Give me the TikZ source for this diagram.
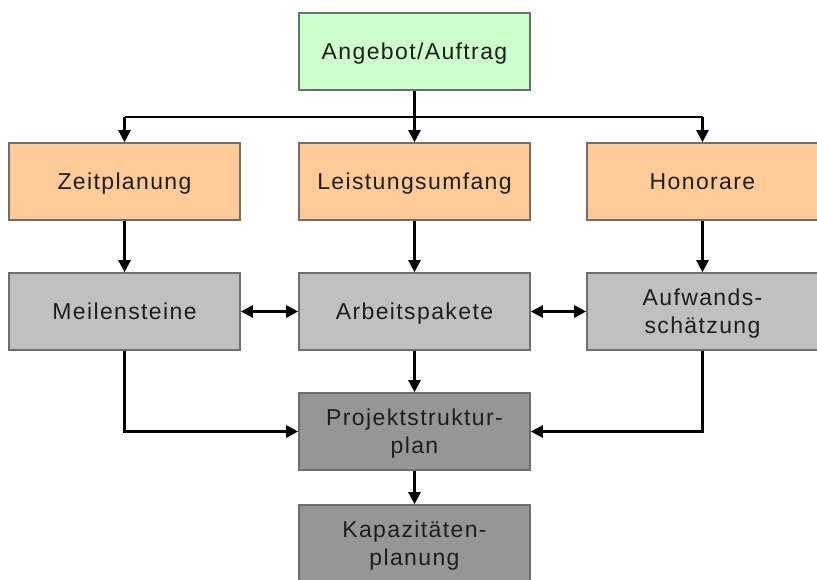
\documentclass[tikz,border=0pt]{standalone}
\usepackage{fontspec}
\setmainfont{Liberation Sans}[LetterSpace=6]
\usetikzlibrary{arrows.meta}
\definecolor{cgreen}{HTML}{CCFFCC}
\definecolor{corange}{HTML}{FFCC99}
\definecolor{clgray}{HTML}{C0C0C0}
\definecolor{cdgray}{HTML}{969696}
\definecolor{cborder}{HTML}{6E6E6E}
\definecolor{ctext}{HTML}{1E1E1E}
\begin{document}
\begin{tikzpicture}[x=1pt,y=-1pt,
  box/.style={rectangle, draw=cborder, line width=1.6pt, minimum width=231pt, minimum height=77pt,
    inner sep=0pt, align=center, text=ctext, font=\fontsize{23}{28}\selectfont,
    text height=16.5pt, text depth=0pt},
  twoline/.style={text height=44.5pt},
  conn/.style={line width=2.4pt, black},
  arr/.style={conn, -{Triangle[length=12pt,width=12pt]}},
  darr/.style={conn, {Triangle[length=12pt,width=12pt]}-{Triangle[length=12pt,width=12pt]}}]
\useasboundingbox (0,0) rectangle (817,580);
\node[box, fill=cgreen] (ang) at (414.5,51.5) {Angebot/Auftrag};
\node[box, fill=corange] (zeit) at (124.5,181.5) {Zeitplanung};
\node[box, fill=corange] (leis) at (414.5,181.5) {Leistungsumfang};
\node[box, fill=corange] (hon) at (702.5,181.5) {Honorare};
\node[box, fill=clgray] (meil) at (124.5,311.5) {Meilensteine};
\node[box, fill=clgray] (arb) at (414.5,311.5) {Arbeitspakete};
\node[box, twoline, fill=clgray] (aufw) at (702.5,311.5) {Aufwands-\\schätzung};
\node[box, twoline, fill=cdgray] (psp) at (414.5,431.5) {Projektstruktur-\\plan};
\node[box, twoline, fill=cdgray] (kap) at (414.5,543.5) {Kapazitäten-\\planung};
\coordinate (jl) at (124.5,117);
\coordinate (jr) at (702.5,117);
\draw[conn] (jl) -- (jr);
\draw[arr] (ang.south) -- (leis.north);
\draw[arr] (jl) -- (zeit.north);
\draw[arr] (jr) -- (hon.north);
\draw[arr] (zeit.south) -- (meil.north);
\draw[arr] (leis.south) -- (arb.north);
\draw[arr] (hon.south) -- (aufw.north);
\draw[darr] (meil.east) -- (arb.west);
\draw[darr] (arb.east) -- (aufw.west);
\draw[arr] (arb.south) -- (psp.north);
\draw[arr] (meil.south) |- (psp.west);
\draw[arr] (aufw.south) |- (psp.east);
\draw[arr] (psp.south) -- (kap.north);
\end{tikzpicture}
\end{document}
